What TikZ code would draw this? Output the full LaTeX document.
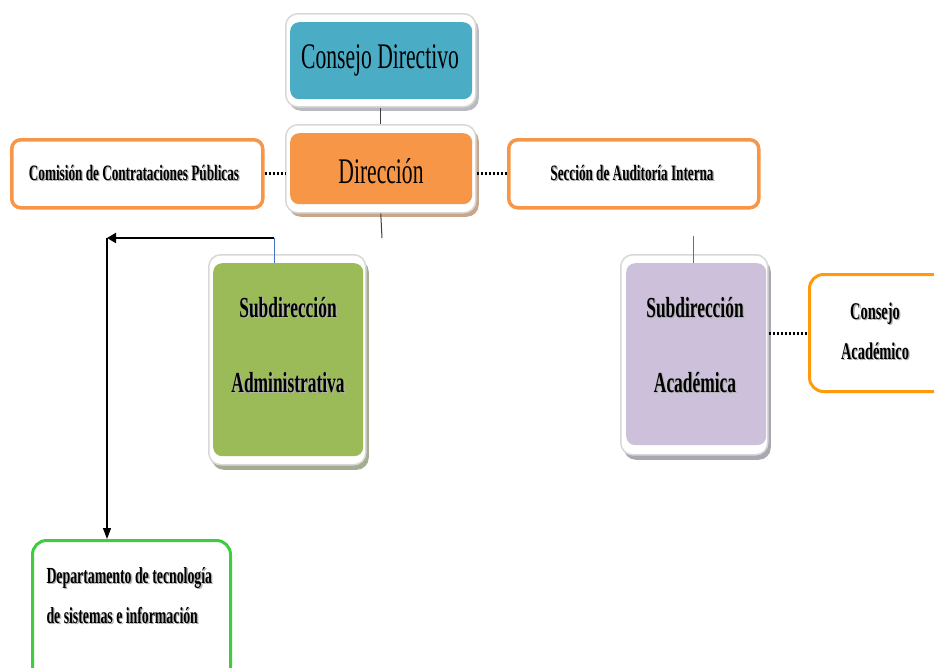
\documentclass[tikz,border=0pt]{standalone}
\usepackage{fontspec}
\setmainfont{Liberation Serif}
\newfontfamily\cf[FakeStretch=0.6]{Liberation Serif}
\usetikzlibrary{arrows.meta,calc,shadows}
\definecolor{cdblue}{HTML}{4BACC6}
\definecolor{dirorange}{HTML}{F79646}
\definecolor{admgreen}{HTML}{9BBB59}
\definecolor{acalav}{HTML}{CCC0DA}
\definecolor{caorange}{HTML}{FF9A0A}
\definecolor{depgreen}{HTML}{3FCC3F}
\definecolor{framegray}{HTML}{D8D8D8}
\definecolor{shgray}{HTML}{B8BCC0}
\definecolor{shtan}{HTML}{C9A68A}
\definecolor{shgreen}{HTML}{A4AC92}
\definecolor{shlav}{HTML}{ABA7B2}
\definecolor{linkblue}{HTML}{4472C4}
\begin{document}
\begin{tikzpicture}[x=1pt,y=-1pt,
  frame/.style={draw=framegray, line width=1.5pt, fill=white, rounded corners=12pt, anchor=north west, inner sep=0pt},
  inbox/.style={rounded corners=9pt, inner sep=0pt, anchor=north west},
  wbox/.style={draw=#1, line width=3.5pt, fill=white, rounded corners=9pt, inner sep=0pt, anchor=north west},
  dots/.style={line width=3pt, dash pattern=on 2pt off 2pt},
  vline/.style={draw=black!75, line width=1pt},
  blink/.style={draw=linkblue, line width=0.8pt},
  bigtxt/.style={font=\cf\fontsize{36}{40}\selectfont},
  midtxt/.style={font=\cf\bfseries\fontsize{22}{26}\selectfont},
  subtxt/.style={font=\cf\bfseries\fontsize{29}{75}\selectfont, align=center},
  smtxt/.style={font=\cf\bfseries\fontsize{24}{40}\selectfont},
  tshadow/.style={text=black!30, xshift=1.3pt, yshift=-1.3pt}
]
\clip (0,0) rectangle (934,667);
\fill[white] (0,0) rectangle (934,667);

% Consejo Directivo
\node[frame, drop shadow={shadow xshift=3pt, shadow yshift=-4pt, fill=shgray, opacity=1}, minimum width=190pt, minimum height=93pt] (cdf) at (285,13) {};
\node[inbox, fill=cdblue, minimum width=182pt, minimum height=77pt] (cd) at (290,22) {};
\node[bigtxt] (cdt) at (380,60) {Consejo Directivo};

% Direccion
\node[frame, drop shadow={shadow xshift=3pt, shadow yshift=-4pt, fill=shtan, opacity=1}, minimum width=190pt, minimum height=88pt] (dirf) at (285,124) {};
\node[inbox, fill=dirorange, minimum width=182pt, minimum height=71pt] (dir) at (290,133) {};
\node[bigtxt] (dirt) at (381,171) {Dirección};

% Comision / Seccion
\node[wbox=dirorange, minimum width=251pt, minimum height=68pt] (com) at (10,138) {};
\node[midtxt, tshadow] (comts) at (134,173) {Comisión de Contrataciones Públicas};
\node[midtxt] (comt) at (134,173) {Comisión de Contrataciones Públicas};
\node[wbox=dirorange, minimum width=250pt, minimum height=68pt] (sec) at (507,138) {};
\node[midtxt, tshadow] (sects) at (632,173) {Sección de Auditoría Interna};
\node[midtxt] (sect) at (632,173) {Sección de Auditoría Interna};

% Subdireccion Administrativa
\node[frame, drop shadow={shadow xshift=3pt, shadow yshift=-5pt, fill=shgreen, opacity=1}, minimum width=157pt, minimum height=210pt] (admf) at (208,254) {};
\node[inbox, fill=admgreen, minimum width=150pt, minimum height=193pt] (adm) at (213,263) {};
\node[subtxt, tshadow] (admts) at (288,345) {Subdirección\\Administrativa};
\node[subtxt] (admt) at (288,345) {Subdirección\\Administrativa};

% Subdireccion Academica
\node[frame, drop shadow={shadow xshift=3pt, shadow yshift=-5pt, fill=shlav, opacity=1}, minimum width=147pt, minimum height=200pt] (acaf) at (620,254) {};
\node[inbox, fill=acalav, minimum width=140pt, minimum height=182pt] (aca) at (626,263) {};
\node[subtxt, tshadow] (acats) at (695,345) {Subdirección\\Académica};
\node[subtxt] (acat) at (695,345) {Subdirección\\Académica};

% Consejo Academico
\node[wbox=caorange, line width=3pt, rounded corners=14pt, minimum width=150pt, minimum height=117pt] (ca) at (808,273) {};
\node[smtxt, align=center, tshadow] (cats) at (875,331) {Consejo\\Académico};
\node[smtxt, align=center] (cat) at (875,331) {Consejo\\Académico};

% Departamento
\node[wbox=depgreen, line width=3pt, rounded corners=14pt, minimum width=198pt, minimum height=150pt] (dep) at (31,539) {};
\node[smtxt, font=\cf\bfseries\fontsize{23}{40}\selectfont, align=left, anchor=north west, tshadow] (depts) at (43,564) {Departamento de tecnología\\de sistemas e información};
\node[smtxt, font=\cf\bfseries\fontsize{23}{40}\selectfont, align=left, anchor=north west] (dept) at (43,564) {Departamento de tecnología\\de sistemas e información};

% connectors
\draw[vline] (cdf.south) -- (dirf.north);
\coordinate (dirdown) at (382,238);
\draw[vline] (dirf.south) -- (dirdown);
\draw[dots] (com.east) -- (dirf.west |- com.east);
\draw[dots] (dirf.east |- sec.west) -- (sec.west);
\draw[dots] (acaf.east |- ca.west) -- (ca.west);
\coordinate (acaj) at (693,236);
\draw[blink] (acaj) -- (acaj |- aca.north);
\coordinate (admj) at (274,238);
\coordinate (elbow) at (107,238);
\draw[blink] (admj) -- (admj |- adm.north);
\draw[line width=2.6pt, -{Triangle[length=9pt,width=10pt]}] (admj) -- (elbow);
\draw[line width=1.3pt, -{Triangle[length=11pt,width=8pt]}] (elbow) -- (elbow |- dep.north);
\end{tikzpicture}
\end{document}
